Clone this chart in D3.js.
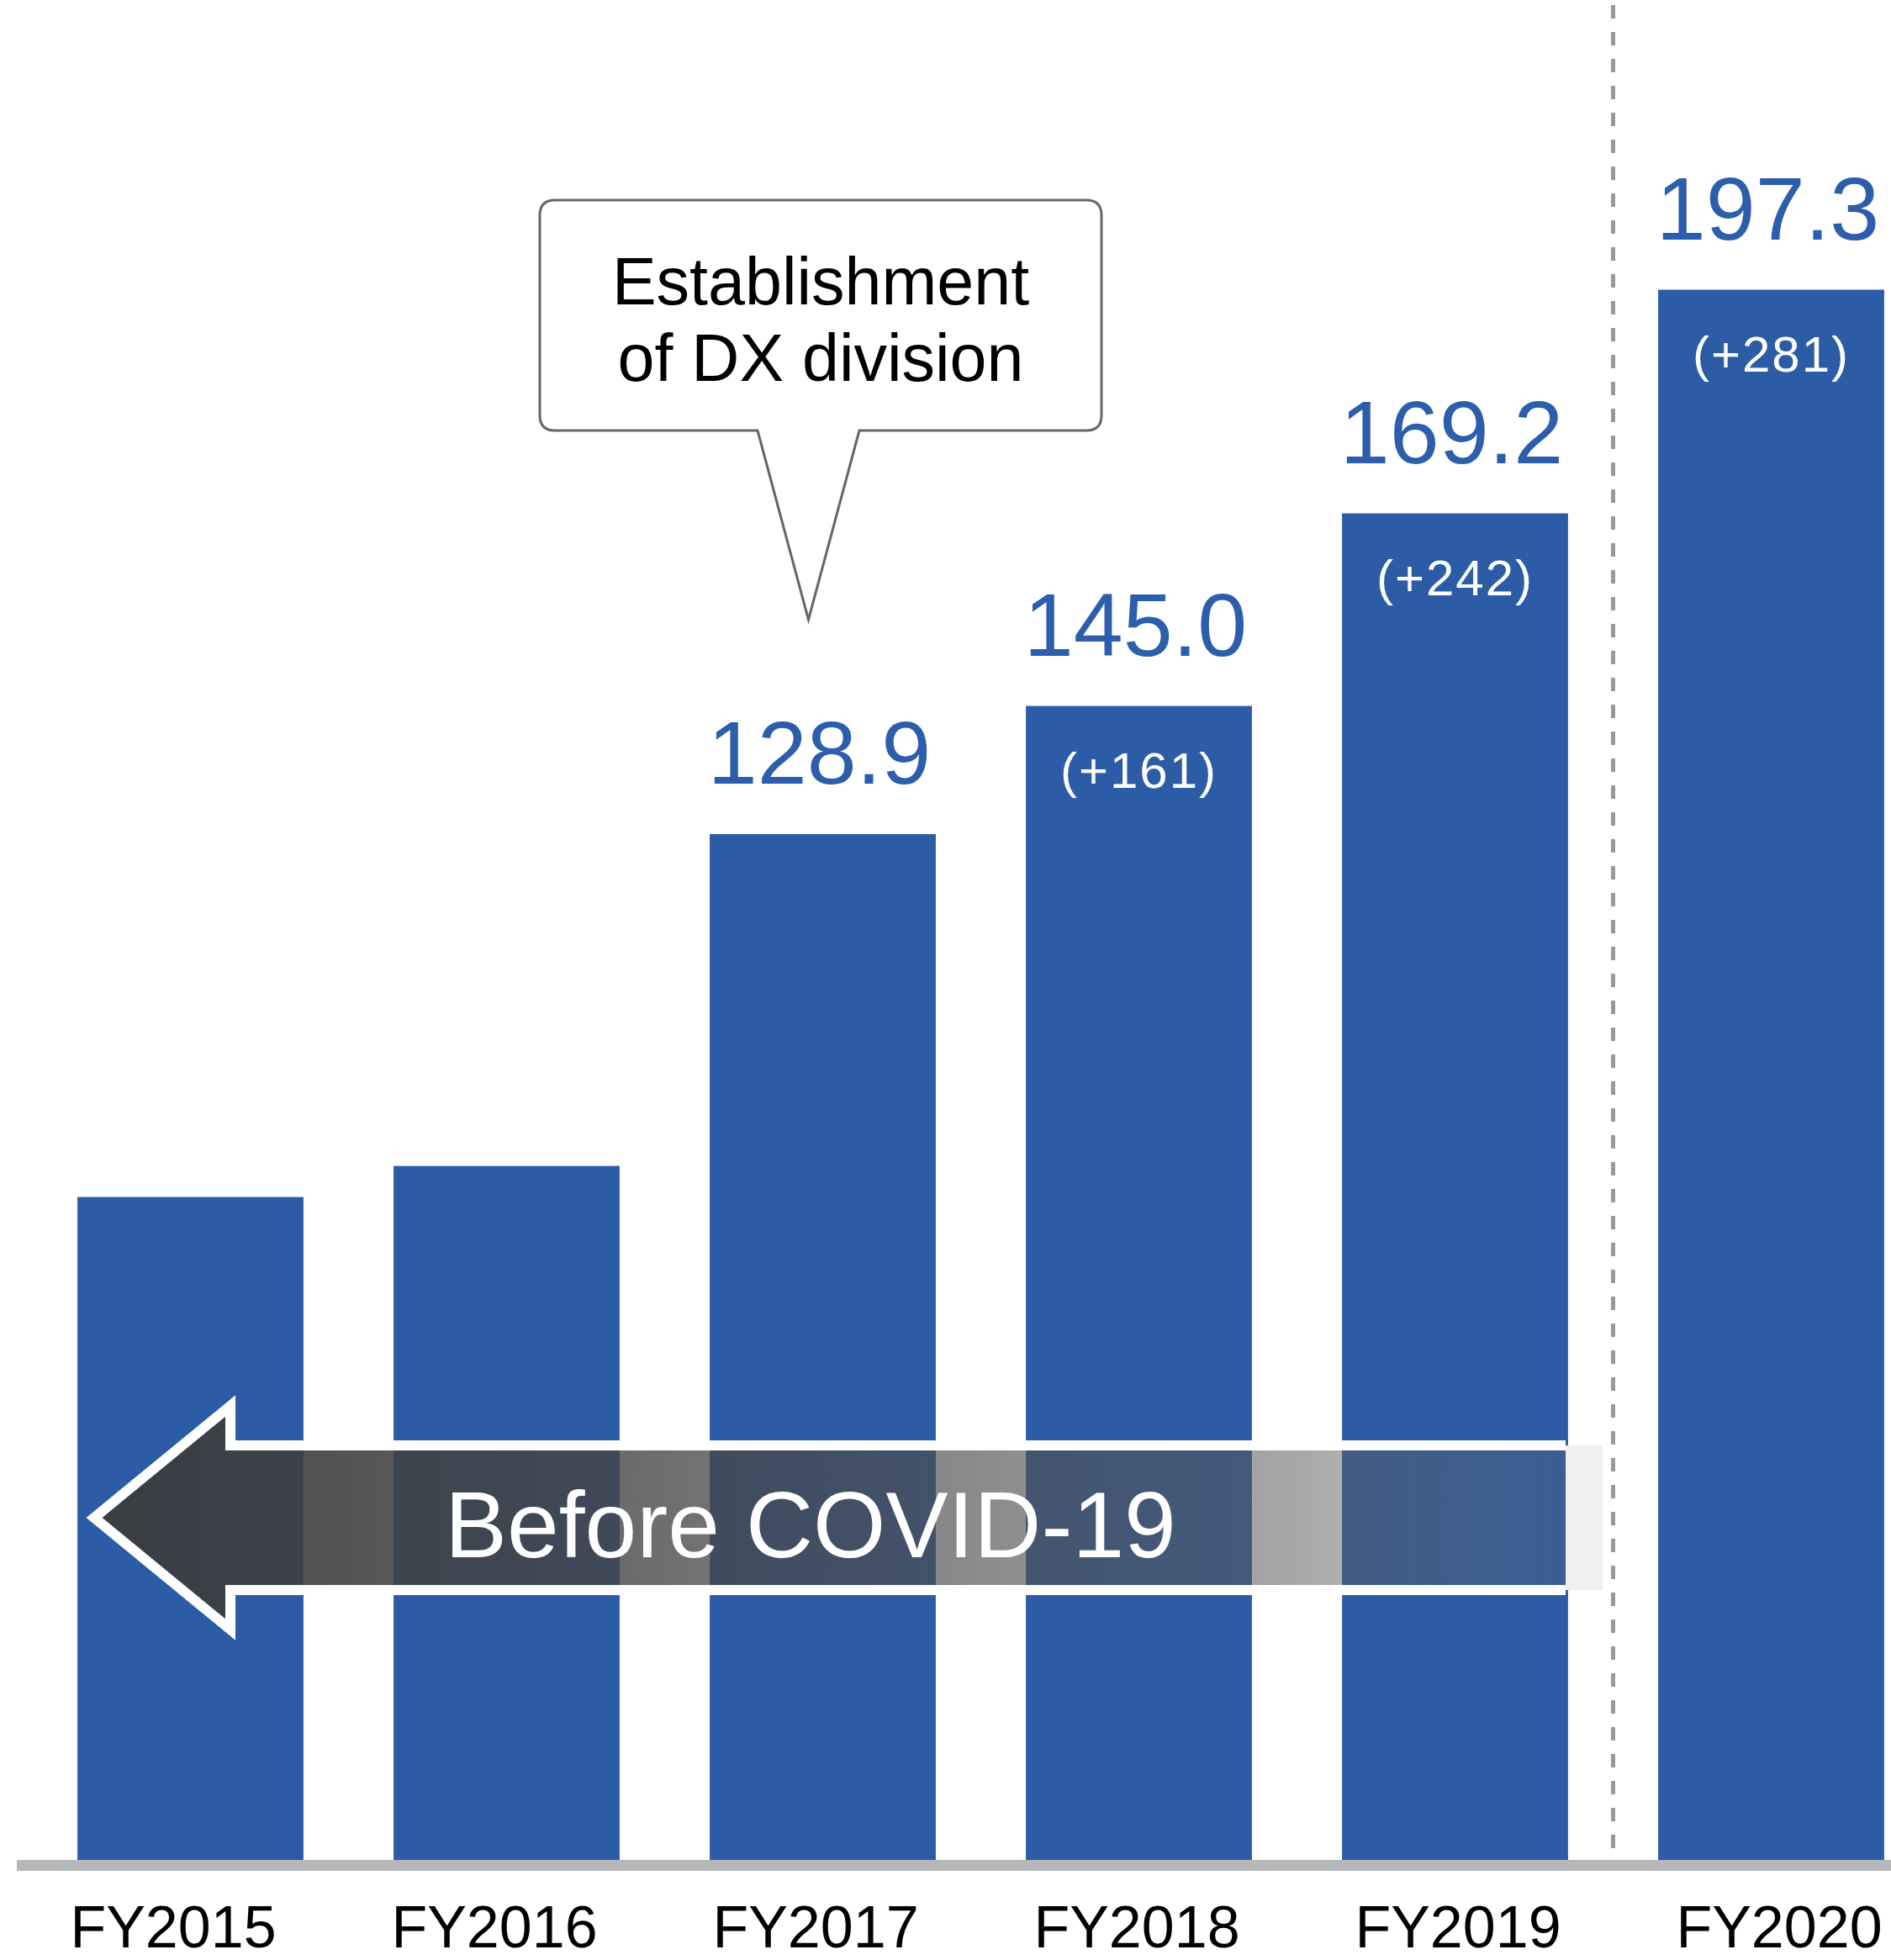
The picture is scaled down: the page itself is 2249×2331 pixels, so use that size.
<!DOCTYPE html>
<html lang="en">
<head>
    <meta charset="UTF-8">
    <title>DX engineers FY2015-FY2020</title>
    <script src="https://d3js.org/d3.v7.min.js"></script>
    <style>
        body { margin: 0; background: #fff; }
        svg { display: block; }
        text { font-family: "Liberation Sans", Arial, sans-serif; }
    </style>
</head>
<body>
    <svg width="2249" height="2331"></svg>
    <script>
        // data
        var years = ["FY2015", "FY2016", "FY2017", "FY2018", "FY2019", "FY2020"];
        var values = [83.3, 87.2, 128.9, 145.0, 169.2, 197.3];
        var valueLabels = [null, null, "128.9", "145.0", "169.2", "197.3"];
        var deltaLabels = [null, null, null, "(+161)", "(+242)", "(+281)"];

        var svg = d3.select("svg"),
            W = +svg.attr("width"),
            baseY = 2212;

        var blue = "#2b5ca5";

        var x = d3.scaleBand()
            .domain(years)
            .range([38.5, 38.5 + 376 * 6])
            .paddingInner(0.285)
            .paddingOuter(0.1425);

        // year labels sit on a slightly wider spacing than the bars
        var xLab = d3.scaleBand()
            .domain(years)
            .range([15, 15 + 382 * 6]);

        var y = d3.scaleLinear()
            .domain([0, 200])
            .range([baseY, baseY - 1893]);

        var data = years.map(function(d, i) {
            return { year: d, value: values[i], label: valueLabels[i], delta: deltaLabels[i] };
        });

        // dashed divider between FY2019 and FY2020
        var gap = x.step() - x.bandwidth();
        svg.append("line")
            .attr("x1", x("FY2020") - gap / 2)
            .attr("x2", x("FY2020") - gap / 2)
            .attr("y1", 6)
            .attr("y2", baseY)
            .attr("stroke", "#999")
            .attr("stroke-width", 5)
            .attr("stroke-dasharray", "16,16");

        // bars
        svg.selectAll(".bar")
            .data(data)
            .enter().append("rect")
            .attr("class", "bar")
            .attr("x", function(d) { return x(d.year); })
            .attr("y", function(d) { return y(d.value); })
            .attr("width", x.bandwidth())
            .attr("height", function(d) { return baseY - y(d.value); })
            .attr("fill", blue);

        // value labels above bars
        svg.selectAll(".val")
            .data(data.filter(function(d) { return d.label; }))
            .enter().append("text")
            .attr("class", "val")
            .attr("x", function(d) { return x(d.year) + x.bandwidth() / 2 - 4; })
            .attr("y", function(d) { return y(d.value) - 60; })
            .attr("text-anchor", "middle")
            .attr("font-size", 106)
            .attr("fill", "#2d5eac")
            .text(function(d) { return d.label; });

        // increase labels inside bars
        svg.selectAll(".delta")
            .data(data.filter(function(d) { return d.delta; }))
            .enter().append("text")
            .attr("class", "delta")
            .attr("x", function(d) { return x(d.year) + x.bandwidth() / 2; })
            .attr("y", function(d) { return y(d.value) + 97; })
            .attr("text-anchor", "middle")
            .attr("font-size", 60)
            .attr("letter-spacing", 2)
            .attr("fill", "#fff")
            .text(function(d) { return d.delta; });

        // baseline
        svg.append("line")
            .attr("x1", 20).attr("x2", W)
            .attr("y1", baseY + 6.5).attr("y2", baseY + 6.5)
            .attr("stroke", "#b5b7b9")
            .attr("stroke-width", 13);

        // category axis
        var ax = svg.append("g")
            .attr("transform", "translate(0," + (baseY + 13) + ")")
            .call(d3.axisBottom(xLab).tickSize(0).tickPadding(41));
        ax.select(".domain").remove();
        ax.selectAll("text")
            .attr("font-size", 70)
            .attr("font-family", "'Liberation Sans', Arial, sans-serif")
            .attr("fill", "#000");

        // "Before COVID-19" arrow
        var defs = svg.append("defs");
        var grad = defs.append("linearGradient")
            .attr("id", "arrowFill")
            .attr("gradientUnits", "userSpaceOnUse")
            .attr("x1", 100).attr("x2", 1862).attr("y1", 0).attr("y2", 0);
        [[0, "#3b3b3b", 0.93], [0.18, "#3f3f3f", 0.89], [0.39, "#454545", 0.78],
         [0.6, "#4e4e4e", 0.66], [0.82, "#5a5a5a", 0.53], [1, "#626262", 0.26]]
            .forEach(function(s) {
                grad.append("stop")
                    .attr("offset", s[0])
                    .attr("stop-color", s[1])
                    .attr("stop-opacity", s[2]);
            });

        var tipX = 112, headX = 274, endX = 1862,
            midY = 1805, bodyT = 1719, bodyB = 1891, headT = 1672, headB = 1938;

        svg.append("rect")
            .attr("x", endX).attr("y", bodyT)
            .attr("width", 44).attr("height", bodyB - bodyT)
            .attr("fill", "#efefef");

        svg.append("path")
            .attr("d", "M" + tipX + "," + midY + "L" + headX + "," + headT + "L" + headX + "," + bodyT +
                "L" + endX + "," + bodyT + "L" + endX + "," + bodyB + "L" + headX + "," + bodyB +
                "L" + headX + "," + headB + "Z")
            .attr("fill", "url(#arrowFill)");

        svg.append("path")
            .attr("d", "M" + endX + "," + bodyT + "L" + headX + "," + bodyT + "L" + headX + "," + headT +
                "L" + tipX + "," + midY + "L" + headX + "," + headB + "L" + headX + "," + bodyB +
                "L" + endX + "," + bodyB)
            .attr("fill", "none")
            .attr("stroke", "#fff")
            .attr("stroke-width", 12)
            .attr("stroke-linejoin", "miter");

        svg.append("text")
            .attr("x", 529)
            .attr("y", 1852)
            .attr("font-size", 111)
            .attr("fill", "#fff")
            .text("Before COVID-19");

        // callout: establishment of DX division
        var bx0 = 642, bx1 = 1310, by0 = 238, by1 = 512, r = 18,
            px0 = 901, px1 = 1022, tipPx = x("FY2017") + x.bandwidth() / 2 - 17, tipPy = 737;
        svg.append("path")
            .attr("d", "M" + (bx0 + r) + "," + by0 +
                "L" + (bx1 - r) + "," + by0 + "Q" + bx1 + "," + by0 + " " + bx1 + "," + (by0 + r) +
                "L" + bx1 + "," + (by1 - r) + "Q" + bx1 + "," + by1 + " " + (bx1 - r) + "," + by1 +
                "L" + px1 + "," + by1 + "L" + tipPx + "," + tipPy + "L" + px0 + "," + by1 +
                "L" + (bx0 + r) + "," + by1 + "Q" + bx0 + "," + by1 + " " + bx0 + "," + (by1 - r) +
                "L" + bx0 + "," + (by0 + r) + "Q" + bx0 + "," + by0 + " " + (bx0 + r) + "," + by0 + "Z")
            .attr("fill", "#fff")
            .attr("stroke", "#666")
            .attr("stroke-width", 3);

        svg.append("text")
            .attr("x", 976).attr("y", 362)
            .attr("text-anchor", "middle")
            .attr("font-size", 79)
            .attr("fill", "#000")
            .text("Establishment");
        svg.append("text")
            .attr("x", 976).attr("y", 453)
            .attr("text-anchor", "middle")
            .attr("font-size", 79)
            .attr("fill", "#000")
            .text("of DX division");
    </script>
</body>
</html>
